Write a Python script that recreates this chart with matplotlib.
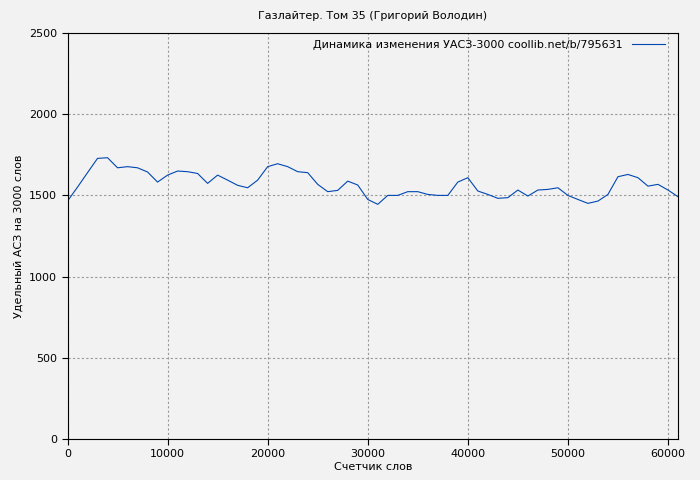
import matplotlib
matplotlib.use("Agg")
import matplotlib.pyplot as plt

words = list(range(0, 62000, 1000))
values = [1465,1551,1640,1728,1732,1670,1677,1670,1644,1582,1625,1650,1646,1635,1574,1625,
          1594,1562,1547,1594,1677,1695,1677,1646,1640,1568,1523,1531,1588,1564,1475,1445,
          1500,1500,1523,1523,1506,1500,1500,1582,1609,1527,1506,1482,1486,1533,1496,1533,
          1537,1547,1500,1475,1451,1465,1506,1615,1629,1609,1557,1568,1533,1492]

fig = plt.figure(figsize=(7, 4.8), dpi=100)
fig.patch.set_facecolor('#f2f2f2')
ax = fig.add_axes([67.5/700, 41/480, 610.5/700, 406/480])
ax.set_facecolor('#f2f2f2')
ax.plot(words, values, color='#0047b3', lw=0.8, label='Динамика изменения УАСЗ-3000 coollib.net/b/795631')
ax.set_xlim(0, 61000)
ax.set_ylim(0, 2500)
ax.set_xticks(range(0, 60001, 10000))
ax.set_yticks(range(0, 2501, 500))
ax.grid(True, color='#999999', linestyle=(0, (2, 2)), lw=0.8)
ax.tick_params(labelsize=8, direction='out', length=4)
ax.set_title('Газлайтер. Том 35 (Григорий Володин)', fontsize=8, pad=10)
ax.set_xlabel('Счетчик слов', fontsize=8, labelpad=2)
ax.set_ylabel('Удельный АСЗ на 3000 слов', fontsize=8)
leg = ax.legend(loc='upper right', fontsize=8, frameon=False, markerfirst=False,
                handlelength=3, borderaxespad=0.2, bbox_to_anchor=(0.99, 1.0))
fig.savefig('out.png', dpi=100, facecolor=fig.get_facecolor())
